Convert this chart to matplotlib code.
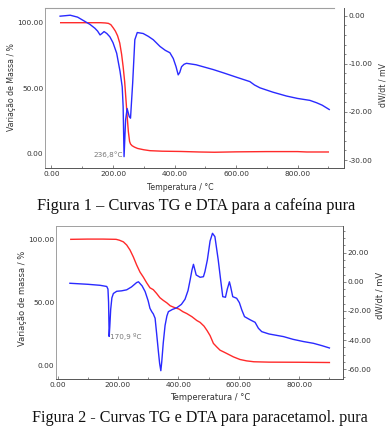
import matplotlib
matplotlib.use("Agg")
import matplotlib.pyplot as plt
from matplotlib.ticker import MultipleLocator, FormatStrFormatter

# ---- Figura 1: cafeina ----
caf_tg_t = [30, 100, 160, 175, 185, 193, 201, 208, 215, 222, 228, 233, 238, 242, 246,
            250, 254, 257, 262, 270, 280, 300, 320, 360, 420, 480, 530, 600, 700, 800, 830, 900]
caf_tg_m = [100, 100, 100, 99.8, 99.5, 98.5, 96, 93.5, 90, 84.5, 76, 66.5, 55, 42, 29,
            17, 9.5, 7.6, 6.3, 5.2, 4.2, 3.2, 2.5, 2.1, 1.9, 1.5, 1.3, 1.6, 1.8, 1.8, 1.5, 1.5]

caf_dta_t = [28, 45, 61, 85, 109, 125, 141, 150, 158, 164, 171, 180, 190, 200, 212, 223,
             230, 233, 236, 241, 246, 253, 257, 264, 271, 279, 298, 315, 331, 353, 370,
             385, 396, 405, 412, 417, 423, 431, 439, 470, 526, 560, 602, 645, 660, 678,
             720, 764, 800, 840, 862, 880, 903]
caf_dta_v = [-0.1, 0.0, 0.1, -0.3, -1.2, -1.8, -2.6, -3.2, -4.0, -3.7, -3.3, -3.7, -4.4,
             -5.6, -7.8, -11.6, -14.8, -18.9, -29.3, -21.7, -19.3, -21.0, -21.3, -14.0,
             -5.0, -3.5, -3.7, -4.3, -5.0, -6.4, -7.2, -7.7, -8.9, -10.6, -12.3, -11.8,
             -10.6, -10.1, -9.9, -10.2, -11.2, -11.9, -12.8, -13.7, -14.4, -15.0, -15.9,
             -16.7, -17.2, -17.6, -18.1, -18.6, -19.5]

# ---- Figura 2: paracetamol ----
par_tg_t = [44, 100, 150, 194, 205, 218, 229, 240, 251, 262, 273, 284, 295, 306, 317, 328,
            339, 350, 362, 373, 385, 402, 415, 428, 445, 461, 472, 485, 495, 505, 516, 527,
            538, 550, 560, 582, 604, 626, 650, 700, 800, 900]
par_tg_m = [100, 100.2, 100.2, 100, 99.3, 98, 95.5, 91.5, 86, 79.6, 74, 70, 65.5, 61.5,
            60, 57, 53.6, 51.5, 49.5, 47.2, 46, 44.6, 42.5, 41, 38.5, 35.5, 34, 31, 27.5,
            23.5, 17.3, 14.5, 11.9, 10.5, 9.3, 6.6, 4.5, 3.4, 2.7, 2.4, 2.3, 2.1]

par_dta_t = [41, 100, 141, 163, 167, 169, 171, 173, 176, 180, 185, 196, 212, 229, 245,
             262, 268, 280, 290, 300, 306, 312, 317, 323, 328, 334, 338, 342, 345, 350,
             356, 362, 367, 380, 395, 410, 422, 432, 439, 445, 450, 455, 459, 472, 483,
             488, 496, 505, 513, 521, 532, 540, 547, 556, 562, 566, 569, 573, 580, 593,
             602, 610, 619, 637, 654, 665, 676, 700, 748, 780, 814, 847, 875, 900]
par_dta_v = [-1.0, -1.7, -2.4, -3.2, -5.0, -14, -37.5, -31, -19, -11, -8.0, -6.5, -6.2,
             -5.5, -3.5, -0.5, 0.0, -2.8, -6.7, -13.0, -18.2, -20.5, -22.0, -25.0, -35.3,
             -48, -56, -61, -55, -42, -30, -23.5, -20.5, -19.0, -17.8, -15.5, -12.0, -6.0,
             1.3, 8.0, 12.0, 8.0, 4.7, 3.1, 3.5, 7.0, 15.0, 28.0, 33.3, 31.0, 15.0, 1.3,
             -10.2, -10.6, -5.0, -2.2, 0.0, -3.3, -10.2, -11.3, -14.3, -19.3, -23.9, -26.0,
             -27.8, -31.9, -34.2, -35.8, -37.6, -39.5, -41.0, -42.2, -43.8, -45.4]

red = "#ff2a2a"
blue = "#2a2aff"
txt = "#333333"
grey = "#a0a0a0"

fig = plt.figure(figsize=(3.9, 4.33), dpi=100)
W, H = 390.0, 433.0


def make_axes(box, xlim, yl, yr, left_step, right_step, right_minor):
    x0, y0, x1, y1 = box
    ax = fig.add_axes([x0 / W, 1 - y1 / H, (x1 - x0) / W, (y1 - y0) / H])
    ax.set_xlim(*xlim)
    ax.set_ylim(*yl)
    ax.xaxis.set_major_locator(MultipleLocator(200))
    ax.xaxis.set_minor_locator(MultipleLocator(100))
    ax.xaxis.set_major_formatter(FormatStrFormatter("%.2f"))
    ax.yaxis.set_major_locator(MultipleLocator(left_step))
    ax.yaxis.set_major_formatter(FormatStrFormatter("%.2f"))
    ax.tick_params(axis="x", direction="in", length=2, width=0.5, pad=2,
                   labelsize=5.3, labelcolor=txt, color="#555555")
    ax.tick_params(axis="x", which="minor", direction="in", length=1.2, width=0.5,
                   color="#555555")
    ax.tick_params(axis="y", length=0, pad=1, labelsize=5.3, labelcolor=txt)
    for s in ("top", "right"):
        ax.spines[s].set_visible(False)
    ax.spines["left"].set_color(grey)
    ax.spines["bottom"].set_color("#555555")
    ax.spines["left"].set_linewidth(0.7)
    ax.spines["bottom"].set_linewidth(0.7)

    ax2 = ax.twinx()
    ax2.set_ylim(*yr)
    ax2.yaxis.set_major_locator(MultipleLocator(right_step))
    ax2.yaxis.set_minor_locator(MultipleLocator(right_minor))
    ax2.yaxis.set_major_formatter(FormatStrFormatter("%.2f"))
    ax2.tick_params(axis="y", direction="out", length=2, width=0.5, pad=1.5,
                    labelsize=5.3, labelcolor=txt, color="#555555")
    ax2.tick_params(axis="y", which="minor", direction="out", length=1.2, width=0.5,
                    color="#555555")
    for s in ("top", "left", "bottom"):
        ax2.spines[s].set_visible(False)
    ax2.spines["right"].set_color("#555555")
    ax2.spines["right"].set_linewidth(0.7)
    return ax, ax2


# ---------- Figura 1 ----------
ax, ax2 = make_axes((45, 8, 344, 168), (-21, 951), (-10.7, 111.2), (-31.66, 1.6),
                    50, 10, 2)
ax.plot([ax.get_xlim()[0], 919], [111.2, 111.2], color=grey, lw=0.8, clip_on=False)
ax.plot(caf_tg_t, caf_tg_m, color=red, lw=1.0)
ax2.plot(caf_dta_t, caf_dta_v, color=blue, lw=1.0)
ax2.text(231, -28.9, "236,8°C", ha="right", va="center", fontsize=5.2, color="#777777")
fig.text(180 / W, 1 - 187 / H, "Temperatura / °C", ha="center", va="center",
         fontsize=5.6, color=txt)
fig.text(12 / W, 1 - 87 / H, "Variação de Massa / %", ha="center", va="center",
         rotation=90, fontsize=5.6, color=txt)
fig.text(383 / W, 1 - 85 / H, "dW/dt / mV", ha="center", va="center",
         rotation=90, fontsize=5.6, color=txt)
fig.text(196 / W, 1 - 206 / H, "Figura 1 – Curvas TG e DTA para a cafeína pura",
         ha="center", va="center", fontsize=11.8, family="Liberation Serif", color="#111111")

# ---------- Figura 2 ----------
bx, bx2 = make_axes((56, 226, 343, 379), (-5, 945), (-11.0, 110.6), (-66.7, 38.3),
                    50, 20, 5)
bx.spines["top"].set_visible(True)
bx.spines["top"].set_color(grey)
bx.spines["top"].set_linewidth(0.7)
bx.plot(par_tg_t, par_tg_m, color=red, lw=1.0)
bx2.plot(par_dta_t, par_dta_v, color=blue, lw=1.0)
bx2.text(175, -37.5, "170,9 ºC", ha="left", va="center", fontsize=5.2, color="#777777")
fig.text(210 / W, 1 - 398 / H, "Tempereratura / °C", ha="center", va="center",
         fontsize=6.0, color=txt)
fig.text(23 / W, 1 - 298 / H, "Variação de massa / %", ha="center", va="center",
         rotation=90, fontsize=6.0, color=txt)
fig.text(380 / W, 1 - 295 / H, "dW/dt / mV", ha="center", va="center",
         rotation=90, fontsize=6.0, color=txt)
fig.text(200 / W, 1 - 418 / H, "Figura 2 - Curvas TG e DTA para paracetamol. pura",
         ha="center", va="center", fontsize=11.6, family="Liberation Serif", color="#111111")

fig.savefig("out.png", dpi=100)
